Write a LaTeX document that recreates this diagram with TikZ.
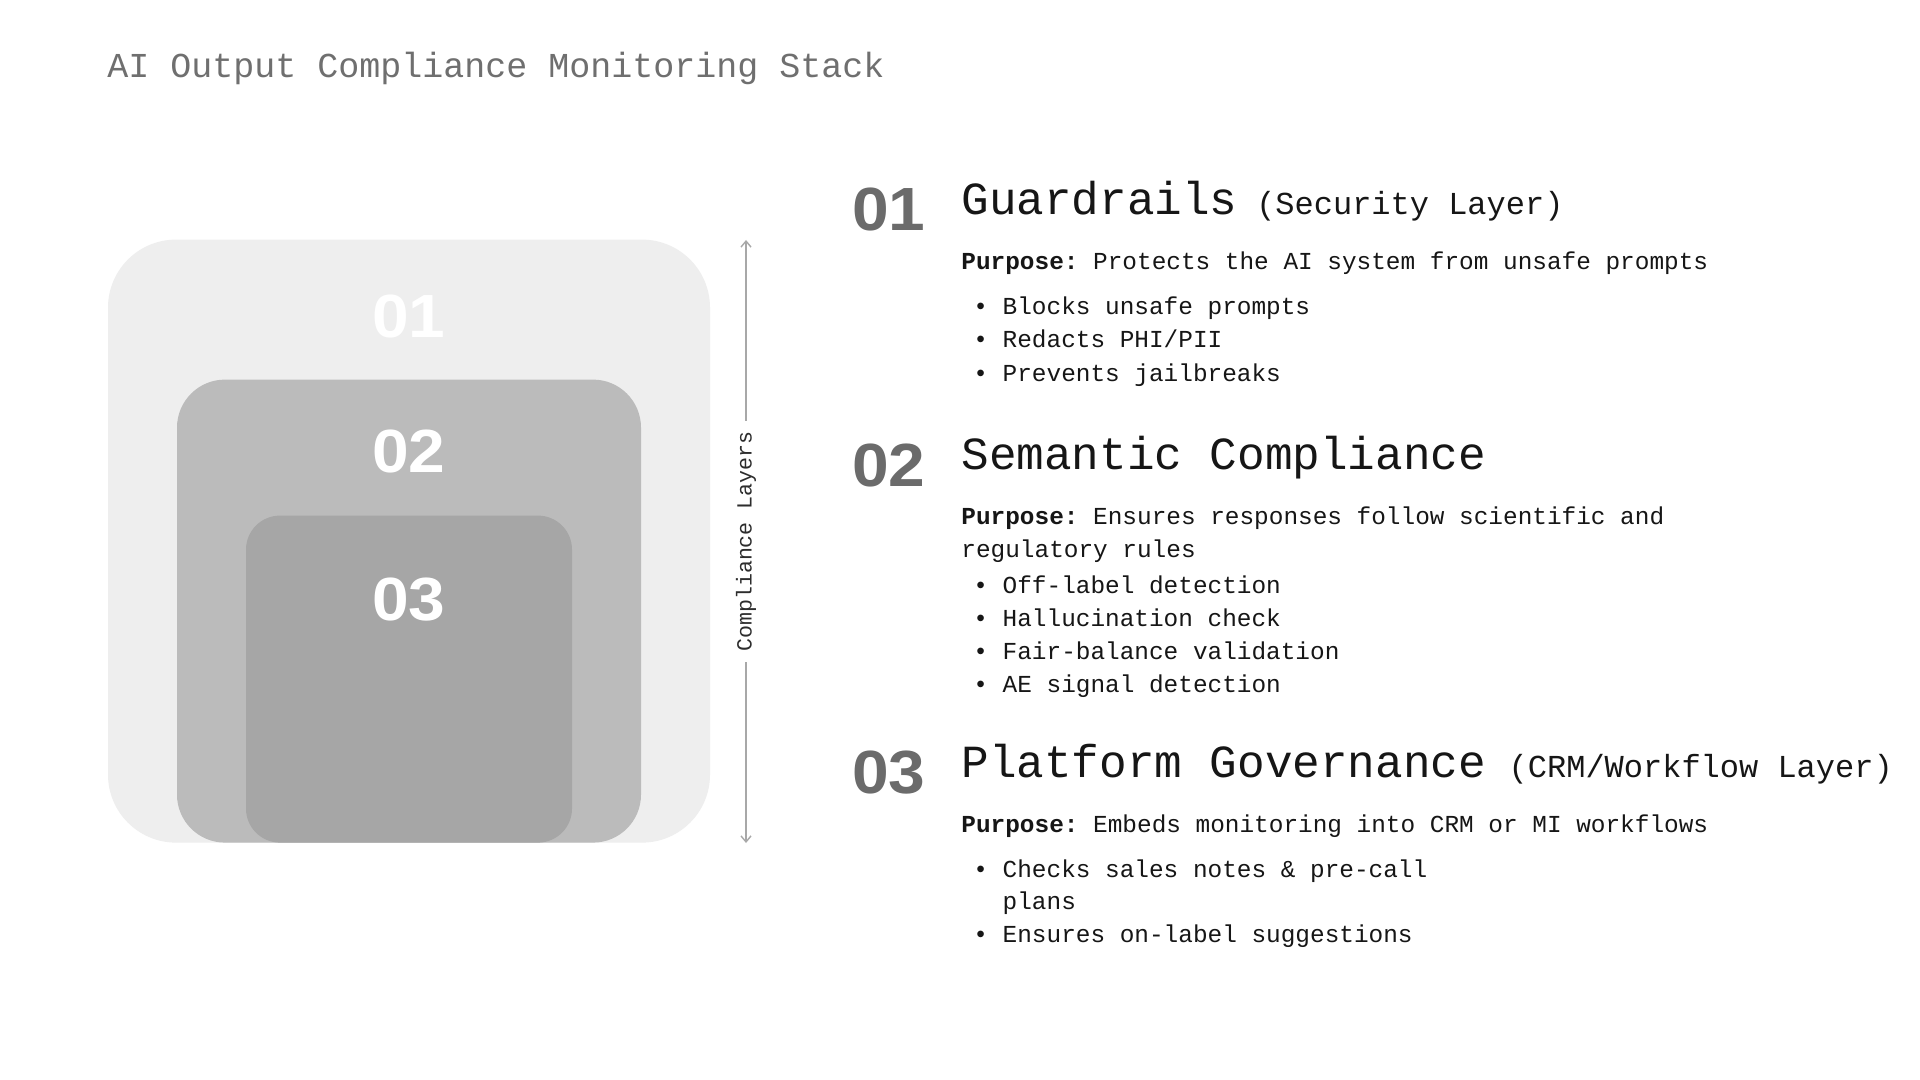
\documentclass[tikz,border=0pt]{standalone}
\usepackage{fontspec}
\setmainfont{Liberation Sans}
\setmonofont{Liberation Mono}
\newfontfamily\numfont[FakeStretch=1.08]{Liberation Sans}
\usetikzlibrary{positioning}
\usetikzlibrary{arrows.meta}
\definecolor{inkblack}{HTML}{161616}
\definecolor{titlegray}{HTML}{6F6F6F}
\definecolor{numgray}{HTML}{6B6B6B}
\definecolor{boxa}{HTML}{EEEEEE}
\definecolor{boxb}{HTML}{BBBBBB}
\definecolor{boxc}{HTML}{A6A6A6}
\definecolor{linegray}{HTML}{A8A8A8}
\tikzset{
    mybox/.style = {rectangle, draw=none, anchor=south, inner sep=0pt},
    myboxa/.style = {mybox, fill=boxa, minimum width=301pt, minimum height=301.5pt, rounded corners=34pt},
    myboxb/.style = {mybox, fill=boxb, minimum width=232pt, minimum height=231.5pt, rounded corners=24pt},
    myboxc/.style = {mybox, fill=boxc, minimum width=163pt, minimum height=163.5pt, rounded corners=17pt},
    mylayer/.style = {inner sep=0pt, anchor=base, font=\numfont\bfseries\fontsize{30.5}{36}\selectfont, text=white},
    mynum/.style = {inner sep=0pt, anchor=base east, font=\numfont\bfseries\fontsize{30.5}{36}\selectfont, text=numgray},
    mytitle/.style = {inner sep=0pt, anchor=base west, font=\ttfamily\fontsize{17.5}{21}\selectfont, text=titlegray},
    myhead/.style = {inner sep=0pt, anchor=base west, font=\ttfamily\fontsize{23}{27}\selectfont, text=inkblack},
    mysub/.style = {inner sep=0pt, anchor=base west, font=\ttfamily\fontsize{16}{19}\selectfont, text=inkblack},
    mytext/.style = {inner sep=0pt, anchor=base west, font=\ttfamily\fontsize{12.2}{16.5}\selectfont, text=inkblack},
    myside/.style = {rotate=90, inner xsep=5pt, inner ysep=0pt, font=\ttfamily\fontsize{10.8}{13}\selectfont, text=inkblack!90},
    edgea/.style = {-{Straight Barb[length=3pt,width=5pt]}, line width=0.7pt, linegray}
}
\begin{document}
\begin{tikzpicture}[x=0.5pt,y=-0.5pt]
\fill[white] (0,0) rectangle (1920,1080);
\useasboundingbox (0,0) rectangle (1920,1080);
%
\node[mytitle] at (107,78) (title) {AI Output Compliance Monitoring Stack};
%
\node[myboxa] at (409,843) (la) {};
\node[myboxb] at (409,843) (lb) {};
\node[myboxc] at (409,843) (lc) {};
\node[mylayer] at (409,337) (na) {01};
\node[mylayer] at (409,472) (nb) {02};
\node[mylayer] at (409,620) (nc) {03};
%
\coordinate (ta) at (746,240);
\coordinate (tb) at (746,843);
\node[myside] at (746,541.5) (side) {Compliance Layers};
\draw[edgea] (side) -- (ta);
\draw[edgea] (side) -- (tb);
%
\node[mynum] at (926,231) (ra) {01};
\node[myhead] at (961,215) (ha) {Guardrails};
\node[mysub, base right=9pt of ha] (sa) {(Security Layer)};
\node[mytext] at (961,270) (pa) {\textbf{Purpose:} Protects the AI system from unsafe prompts};
\node[mytext] at (973,315) (ba1) {\textbullet~Blocks unsafe prompts};
\node[mytext] at (973,348) (ba2) {\textbullet~Redacts PHI/PII};
\node[mytext] at (973,381) (ba3) {\textbullet~Prevents jailbreaks};
%
\node[mynum] at (926,486) (rb) {02};
\node[myhead] at (961,469) (hb) {Semantic Compliance};
\node[mytext] at (961,524) (pb1) {\textbf{Purpose:} Ensures responses follow scientific and};
\node[mytext] at (961,557) (pb2) {regulatory rules};
\node[mytext] at (973,593) (bb1) {\textbullet~Off-label detection};
\node[mytext] at (973,626) (bb2) {\textbullet~Hallucination check};
\node[mytext] at (973,659) (bb3) {\textbullet~Fair-balance validation};
\node[mytext] at (973,692) (bb4) {\textbullet~AE signal detection};
%
\node[mynum] at (926,793) (rc) {03};
\node[myhead] at (961,777) (hc) {Platform Governance};
\node[mysub, base right=11pt of hc] (sc) {(CRM/Workflow Layer)};
\node[mytext] at (961,832) (pc) {\textbf{Purpose:} Embeds monitoring into CRM or MI workflows};
\node[mytext] at (973,877) (bc1) {\textbullet~Checks sales notes \& pre-call};
\node[mytext] at (973,909) (bc2) {\phantom{\textbullet~}plans};
\node[mytext] at (973,942) (bc3) {\textbullet~Ensures on-label suggestions};
\end{tikzpicture}
\end{document}
